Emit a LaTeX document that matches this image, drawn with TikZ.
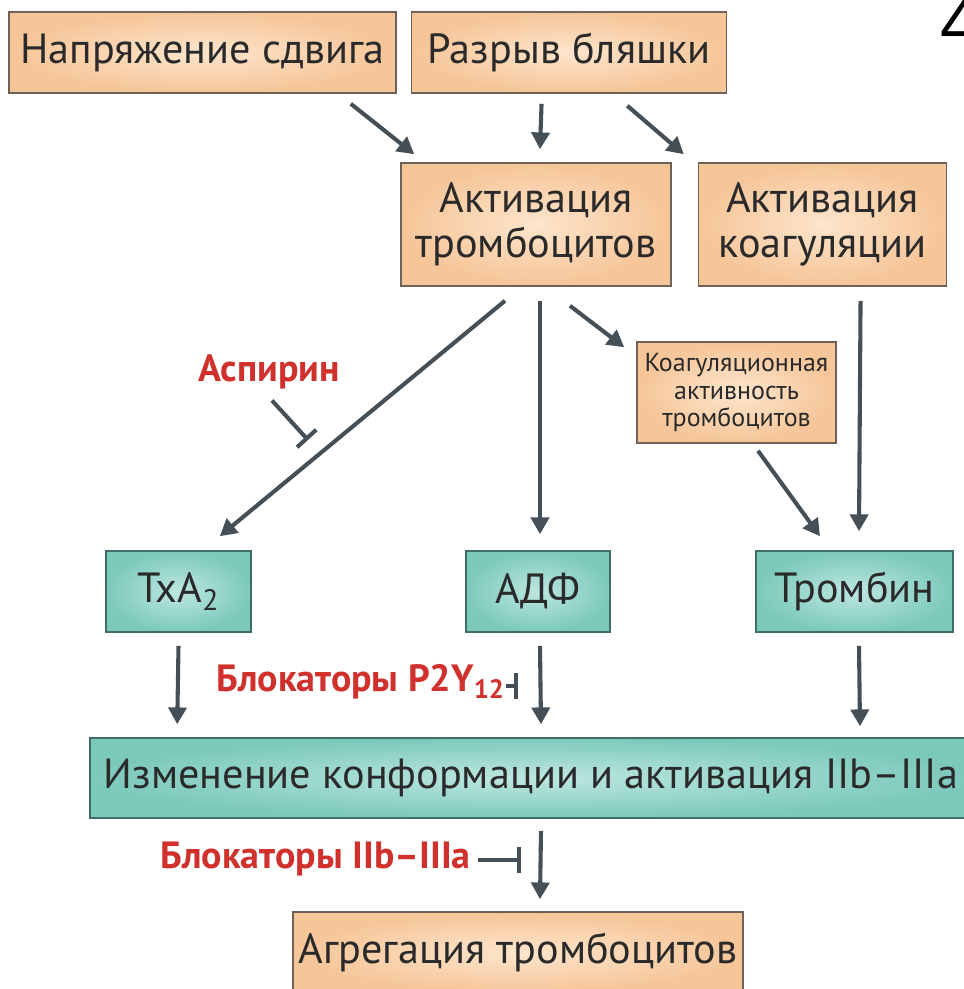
\documentclass[tikz,border=0pt]{standalone}
\usepackage{fontspec}
\setmainfont{PT Sans}
\newfontfamily\numfont{Liberation Sans}
\usetikzlibrary{arrows.meta,positioning}

\definecolor{boxorange}{HTML}{F6C598}
\definecolor{boxorangelt}{HTML}{FDE5CC}
\definecolor{boxteal}{HTML}{7CC9BC}
\definecolor{boxteallt}{HTML}{BDE7E0}
\definecolor{edgebrown}{HTML}{6E6258}
\definecolor{edgeteal}{HTML}{3F6E69}
\definecolor{arrowgray}{HTML}{454F57}
\definecolor{drugred}{HTML}{D0312D}
\definecolor{txtdark}{HTML}{2A2A2A}

\newcommand{\pxu}{0.025cm}

\tikzset{
  boxsize/.style 2 args={minimum width=#1*\pxu, minimum height=#2*\pxu},
  basebox/.style={line width=1.1pt, text=txtdark, align=center, inner sep=0pt,
    font=\fontsize{30}{32}\selectfont},
  orangebox/.style={basebox, draw=edgebrown, inner color=boxorangelt, outer color=boxorange},
  tealbox/.style={basebox, draw=edgeteal, inner color=boxteallt, outer color=boxteal},
  smalltext/.style={font=\fontsize{18.5}{19.5}\selectfont},
  drug/.style={text=drugred, inner sep=0pt, font=\bfseries\fontsize{27}{30}\selectfont},
  arr/.style={color=arrowgray, line width=2.9pt, -{Triangle[length=0.42cm,width=0.45cm]}},
  inhib/.style={draw=arrowgray, line width=2.9pt, -{Bar[width=0.65cm]}}
}

\begin{document}
\begin{tikzpicture}[x=0.025cm,y=-0.025cm]
  \useasboundingbox (0,0) rectangle (963,989);
  % orange boxes
  \node[orangebox,boxsize={387}{81}] (shear) at (202.5,52.5) {Напряжение сдвига};
  \node[orangebox,boxsize={315}{81}] (rupture) [right=0.35cm of shear] {Разрыв бляшки};
  \node[orangebox,boxsize={270}{123}] (pltact) at (536,224.5) {Активация\\тромбоцитов};
  \node[orangebox,boxsize={248}{123}] (coagact) [right=0.65cm of pltact] {Активация\\коагуляции};
  \node[orangebox,smalltext,boxsize={199}{101}] (pltcoag) at (736.5,392.5) {Коагуляционная\\активность\\тромбоцитов};
  % teal boxes
  \node[tealbox,boxsize={145}{81}] (txa) at (178.5,591.5) {TxA\textsubscript{2}};
  \node[tealbox,boxsize={144}{81}] (adp) at (538,591.5) {АДФ};
  \node[tealbox,boxsize={197}{81}] (thr) at (854.5,591.5) {Тромбин};
  \node[tealbox,boxsize={882}{80}] (gp) at (531,778) {Изменение конформации и активация IIb–IIIa};
  \node[orangebox,boxsize={450}{81}] (aggr) at (518,952.5) {Агрегация тромбоцитов};
  % drugs
  \node[drug] (aspirin) at (269,372) {Аспирин};
  \node[drug,anchor=east] (p2y) at (505,682) {Блокаторы P2Y\textsubscript{12}};
  \node[drug,anchor=east] (gpblock) at (471,859) {Блокаторы IIb–IIIa};
  \node[anchor=base west,inner sep=0pt,font=\numfont\fontsize{50}{50}\selectfont] (fignum) at (940,47) {4};

  \path[arr]
    % top edges
    ([shift={(-46,10)}]shear.south east) edge ([shift={(14,-8)}]pltact.north west)
    ([shift={(-27.5,10)}]rupture.south)  edge ([shift={(4,-13)}]pltact.north)
    ([shift={(-100,12)}]rupture.south east) edge ([shift={(-14,-8)}]coagact.north west)
    % middle edges
    ([shift={(-31,14)}]pltact.south) edge ([shift={(-32,-14)}]txa.north east)
    ([shift={(4,14)}]pltact.south)   edge ([shift={(2,-16)}]adp.north)
    ([shift={(34,19)}]pltact.south)  edge ([shift={(-12,6)}]pltcoag.north west)
    ([shift={(38,14)}]coagact.south) edge ([shift={(4.5,-19)}]thr.north)
    ([shift={(21.5,7)}]pltcoag.south) edge ([shift={(-34.5,-14)}]thr.north)
    % bottom edges
    ([shift={(0,13)}]txa.south)   edge ([shift={(88,-13)}]gp.north west)
    ([shift={(2,13)}]adp.south)   edge ([shift={(10,-13)}]gp.north)
    ([shift={(4.5,13)}]thr.south) edge ([shift={(329,-11)}]gp.north)
    ([shift={(10,12)}]gp.south)   edge ([shift={(22,-12)}]aggr.north);

  % blockers
  \coordinate (aspbar) at (308,440);
  \coordinate (p2ybar) at (518,686);
  \coordinate (gpbar) at (521,860);
  \draw[inhib] ([shift={(3,11)}]aspirin.south) -- (aspbar);
  \draw[inhib] ([shift={(1,4)}]p2y.east) -- (p2ybar);
  \draw[inhib] ([shift={(7,1)}]gpblock.east) -- (gpbar);
\end{tikzpicture}
\end{document}
